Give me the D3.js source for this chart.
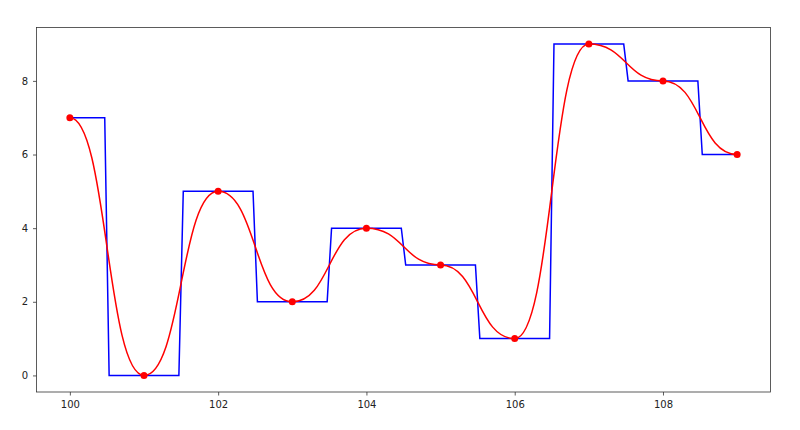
<!DOCTYPE html>
<html>
<head>
<meta charset="utf-8">
<script src="https://cdn.jsdelivr.net/npm/d3@7"></script>
<style>
  html, body { margin: 0; padding: 0; background: #fff; }
  svg { display: block; font-family: "DejaVu Sans", sans-serif; }
</style>
</head>
<body>
<svg id="chart" width="800" height="430"></svg>
<script>
const xValues = [100, 101, 102, 103, 104, 105, 106, 107, 108, 109];
const yValues = [7, 0, 5, 2, 4, 3, 1, 9, 8, 6];
const xTicks = [100, 102, 104, 106, 108];
const yTicks = [0, 2, 4, 6, 8];

const W = 800, H = 430;
const margin = { left: 36.5, right: 29.5, top: 27.5, bottom: 38 };
const svg = d3.select("#chart");

const x = d3.scaleLinear().domain([99.55, 109.45]).range([margin.left, W - margin.right]);
const y = d3.scaleLinear().domain([-0.45, 9.45]).range([H - margin.bottom, margin.top]);

const data = xValues.map((v, i) => ({ x: v, y: yValues[i] }));

// Step curve with a slightly slanted riser (as in a sampled nearest-neighbour line)
function slantStep(context) {
  let pts = [];
  return {
    lineStart() { pts = []; },
    lineEnd() {
      const half = 2.2;
      pts.forEach((p, i) => {
        if (i === 0) { context.moveTo(p[0], p[1]); return; }
        const q = pts[i - 1];
        const m = (q[0] + p[0]) / 2;
        context.lineTo(m - half, q[1]);
        context.lineTo(m + half, p[1]);
        context.lineTo(p[0], p[1]);
      });
    },
    areaStart() {}, areaEnd() {},
    point(px, py) { pts.push([px, py]); }
  };
}

const g = svg.append("g");

g.append("path")
  .datum(data)
  .attr("fill", "none")
  .attr("stroke", "#0000ff")
  .attr("stroke-width", 1.5)
  .attr("d", d3.line().x(d => x(d.x)).y(d => y(d.y)).curve(slantStep));

g.append("path")
  .datum(data)
  .attr("fill", "none")
  .attr("stroke", "#ff0000")
  .attr("stroke-width", 1.5)
  .attr("d", d3.line().x(d => x(d.x)).y(d => y(d.y)).curve(d3.curveBumpX));

g.selectAll("circle.pt")
  .data(data)
  .enter().append("circle")
  .attr("class", "pt")
  .attr("cx", d => x(d.x))
  .attr("cy", d => y(d.y))
  .attr("r", 3.5)
  .attr("fill", "#ff0000");

// Axes
const xAxis = svg.append("g")
  .attr("transform", `translate(0,${H - margin.bottom})`)
  .call(d3.axisBottom(x).tickValues(xTicks).tickSize(3.5).tickPadding(5).tickFormat(d3.format("d")));
const yAxis = svg.append("g")
  .attr("transform", `translate(${margin.left},0)`)
  .call(d3.axisLeft(y).tickValues(yTicks).tickSize(3.5).tickPadding(5).tickFormat(d3.format("d")));
[xAxis, yAxis].forEach(a => {
  a.select(".domain").remove();
  a.selectAll("line").attr("stroke", "#333").attr("stroke-width", 0.8);
  a.selectAll("text").attr("font-size", 10).attr("fill", "#222").attr("font-family", "DejaVu Sans, sans-serif");
});

// Frame
svg.append("rect")
  .attr("x", margin.left).attr("y", margin.top)
  .attr("width", W - margin.left - margin.right)
  .attr("height", H - margin.top - margin.bottom)
  .attr("fill", "none").attr("stroke", "#333").attr("stroke-width", 0.8);
</script>
</body>
</html>
